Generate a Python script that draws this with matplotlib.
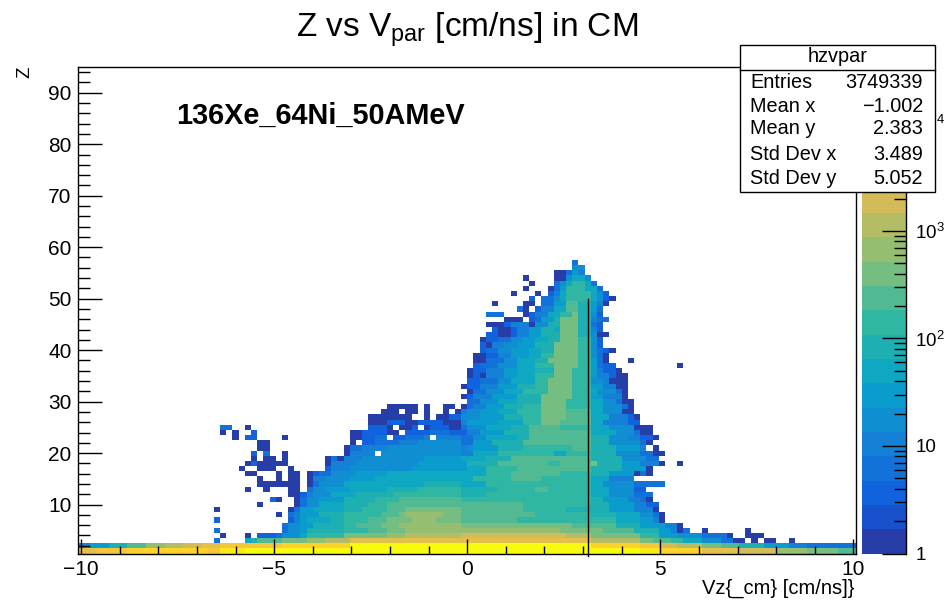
import numpy as np
import matplotlib
matplotlib.use("Agg")
import matplotlib.pyplot as plt
from matplotlib.colors import LinearSegmentedColormap, ListedColormap, LogNorm
from matplotlib.patches import Rectangle
from matplotlib.lines import Line2D

plt.rcParams['font.family'] = ['Liberation Sans', 'DejaVu Sans']
plt.rcParams['mathtext.fontset'] = 'custom'
plt.rcParams['mathtext.rm'] = 'Liberation Sans'
plt.rcParams['mathtext.default'] = 'regular'

W, H = 945, 600

# Histogram read-off: for each Z, (start bin, colour band) runs; band -1 = empty cell.
# Bins are 0.16 wide in Vz, starting at -10.08.
N_BINS = 126
LOG_MAX = 4.525
N_BANDS = 20
# Correction of the blue end of the read-off, after comparison with the reference colours
band_correction = {1: 2, 2: 3, 3: 4, 4: 5}
runs_by_z = {
 1: [(0,15),(3,16),(8,17),(21,16),(23,18),(27,19),(91,18),(94,17),(101,15),(107,14),(113,12),(118,11),(123,10),(126,-1)],
 2: [(0,3),(2,6),(5,8),(8,10),(11,12),(14,13),(17,14),(20,15),(23,16),(33,17),(44,19),(83,17),(91,16),(94,14),(97,13),(101,11),(104,10),(107,8),(111,6),(115,3),(118,2),(126,-1)],
 3: [(22,2),(23,-1),(27,7),(28,8),(29,10),(33,11),(37,12),(40,13),(44,15),(83,13),(91,11),(93,10),(96,9),(98,7),(101,4),(104,2),(106,0),(108,-1),(109,0),(110,-1),(111,0),(113,-1),(115,0),(116,-1)],
 4: [(23,0),(24,-1),(27,0),(28,-1),(29,1),(32,2),(33,4),(36,7),(37,9),(43,11),(50,12),(53,13),(62,14),(79,13),(83,11),(91,9),(94,6),(97,4),(101,2),(105,0),(106,-1),(108,0),(111,-1)],
 5: [(22,2),(23,-1),(33,2),(34,4),(36,6),(37,8),(43,9),(47,10),(50,11),(53,12),(72,12),(78,11),(85,10),(90,8),(94,6),(96,3),(97,0),(98,2),(99,-1),(101,0),(102,-1),(108,0),(109,-1)],
 6: [(33,2),(34,4),(36,6),(38,8),(43,9),(45,10),(49,11),(52,12),(62,11),(80,10),(83,10),(87,8),(91,6),(95,3),(97,0),(98,-1)],
 7: [(22,1),(23,-1),(34,1),(35,3),(36,6),(37,7),(41,8),(43,9),(47,10),(50,11),(54,12),(58,11),(62,10),(71,9),(87,7),(91,6),(93,3),(94,0),(95,-1)],
 8: [(32,0),(33,-1),(34,2),(35,3),(36,6),(39,8),(43,9),(49,10),(52,11),(53,12),(59,11),(62,10),(74,9),(83,8),(87,7),(91,4),(93,2),(94,0),(95,-1)],
 9: [(22,0),(23,-1),(34,0),(35,2),(36,6),(38,7),(43,8),(46,9),(50,10),(53,11),(62,10),(72,9),(79,8),(86,6),(90,3),(93,0),(94,-1)],
 10: [(29,0),(30,-1),(35,0),(36,2),(37,4),(39,7),(43,8),(47,9),(50,10),(72,9),(83,8),(86,6),(90,3),(92,1),(94,-1)],
 11: [(31,1),(32,0),(33,-1),(35,0),(36,2),(37,4),(39,6),(43,8),(48,9),(52,10),(62,9),(83,8),(85,6),(89,3),(91,2),(92,0),(93,-1)],
 12: [(34,0),(36,1),(37,3),(38,5),(41,7),(45,8),(51,9),(62,8),(66,9),(83,7),(86,4),(90,2),(93,-1)],
 13: [(27,0),(28,-1),(30,0),(31,-1),(34,0),(36,-1),(37,2),(38,4),(40,6),(44,7),(50,8),(55,9),(62,8),(68,9),(74,10),(76,9),(83,7),(86,4),(90,1),(92,-1)],
 14: [(29,0),(36,-1),(37,0),(38,2),(39,5),(43,7),(56,8),(62,7),(66,9),(83,7),(85,4),(90,2),(95,-1)],
 15: [(29,0),(30,-1),(32,0),(33,-1),(34,0),(36,-1),(37,0),(38,3),(40,5),(44,6),(48,7),(64,9),(70,10),(75,9),(83,7),(86,3),(90,-1)],
 16: [(27,0),(29,-1),(32,0),(33,-1),(34,0),(36,-1),(37,0),(38,1),(39,2),(41,4),(45,6),(50,7),(66,9),(70,10),(78,9),(83,8),(86,6),(90,0),(91,2),(92,0),(93,-1)],
 17: [(26,0),(27,-1),(29,0),(32,-1),(34,0),(35,-1),(40,1),(41,3),(44,4),(48,5),(54,6),(63,7),(66,9),(71,10),(83,8),(88,6),(92,0),(93,-1)],
 18: [(27,0),(28,1),(29,0),(34,-1),(40,0),(41,3),(45,4),(50,5),(55,6),(63,8),(68,10),(76,9),(78,10),(83,11),(84,8),(88,6),(91,3),(94,0),(95,-1),(97,0),(98,-1)],
 19: [(28,0),(29,-1),(30,0),(32,-1),(33,0),(34,-1),(40,0),(41,2),(42,0),(43,3),(46,4),(50,5),(56,6),(62,7),(66,8),(70,10),(83,8),(88,4),(92,2),(94,-1)],
 20: [(28,1),(29,-1),(30,2),(31,-1),(33,0),(34,-1),(43,0),(44,3),(48,-1),(49,4),(53,5),(62,3),(64,7),(68,9),(77,7),(79,9),(83,8),(87,4),(91,2),(93,0),(95,-1)],
 21: [(29,0),(31,-1),(43,0),(44,2),(46,3),(50,4),(62,3),(63,4),(64,6),(68,8),(72,9),(80,10),(83,8),(87,6),(91,3),(92,-1),(93,0),(94,-1)],
 22: [(29,0),(31,-1),(44,0),(45,-1),(46,1),(48,2),(52,3),(55,4),(62,2),(64,6),(67,8),(72,10),(83,8),(86,4),(91,2),(92,0),(93,-1)],
 23: [(25,0),(26,-1),(27,1),(29,-1),(33,0),(34,-1),(44,0),(46,1),(48,2),(50,-1),(51,1),(53,2),(56,3),(57,-1),(58,3),(62,2),(64,4),(66,7),(71,8),(73,10),(83,8),(86,4),(89,3),(91,1),(93,0),(94,-1)],
 24: [(23,0),(24,-1),(25,0),(26,-1),(28,1),(29,-1),(44,0),(46,1),(50,0),(52,-1),(53,1),(57,2),(60,1),(63,3),(65,6),(69,8),(73,10),(83,7),(87,4),(90,2),(91,0),(93,-1)],
 25: [(23,2),(25,-1),(27,0),(28,-1),(47,1),(50,0),(51,-1),(52,0),(54,1),(55,-1),(56,0),(57,1),(60,0),(62,2),(63,4),(66,7),(70,8),(73,10),(78,9),(83,7),(86,4),(90,0),(93,-1)],
 26: [(47,0),(50,1),(53,0),(55,1),(59,0),(62,3),(63,6),(68,7),(72,9),(75,11),(78,10),(83,7),(85,3),(89,1),(91,-1)],
 27: [(47,0),(53,0),(54,-1),(56,0),(57,-1),(58,0),(60,1),(62,4),(65,6),(69,8),(72,9),(75,11),(79,10),(83,7),(86,3),(89,1),(90,0),(91,-1)],
 28: [(49,0),(52,-1),(53,0),(55,-1),(56,0),(57,-1),(59,0),(60,-1),(61,0),(62,3),(63,4),(65,6),(68,7),(71,9),(75,11),(79,10),(83,7),(85,4),(88,0),(90,-1)],
 29: [(50,0),(55,-1),(56,0),(57,-1),(59,0),(61,-1),(62,0),(63,2),(64,3),(66,6),(69,8),(72,9),(75,11),(79,9),(83,7),(85,4),(88,2),(89,0),(90,-1)],
 30: [(63,2),(65,4),(68,7),(71,8),(75,11),(79,9),(83,7),(85,4),(87,2),(88,0),(90,-1)],
 31: [(62,0),(63,1),(64,3),(67,6),(71,8),(75,11),(80,9),(83,6),(85,3),(88,0),(89,-1)],
 32: [(63,0),(64,2),(66,4),(69,7),(72,9),(76,11),(80,9),(83,7),(84,4),(87,2),(88,0),(89,-1)],
 33: [(62,0),(63,1),(65,3),(68,6),(71,8),(74,9),(76,11),(80,9),(83,6),(85,3),(87,0),(89,-1)],
 34: [(63,1),(65,2),(68,4),(70,7),(74,9),(76,11),(80,9),(83,4),(85,3),(86,0),(89,-1)],
 35: [(63,0),(64,1),(65,0),(66,3),(69,6),(71,7),(74,9),(77,11),(80,9),(83,6),(84,3),(86,1),(87,0),(89,-1)],
 36: [(63,0),(64,1),(66,3),(69,6),(71,7),(74,8),(77,11),(80,9),(83,6),(84,3),(85,1),(87,0),(88,-1)],
 37: [(64,1),(65,2),(68,4),(71,7),(74,9),(77,11),(81,9),(83,6),(84,2),(85,1),(87,-1),(97,0),(98,-1)],
 38: [(64,0),(66,2),(69,4),(71,7),(74,8),(76,11),(81,9),(83,6),(84,2),(85,0),(86,-1),(89,0),(90,-1)],
 39: [(64,0),(66,1),(68,3),(70,6),(73,7),(75,9),(77,11),(81,9),(83,4),(84,2),(85,0),(86,-1)],
 40: [(65,1),(66,2),(68,4),(70,6),(73,7),(75,8),(77,11),(81,9),(83,4),(84,2),(85,1),(86,0),(87,-1)],
 41: [(65,1),(66,0),(67,3),(69,4),(71,6),(74,8),(77,11),(81,9),(83,4),(84,1),(85,-1)],
 42: [(65,0),(66,1),(68,2),(70,4),(72,6),(74,7),(76,8),(78,11),(81,9),(83,4),(84,1),(85,-1)],
 43: [(66,1),(68,0),(70,1),(71,3),(73,6),(75,8),(78,11),(81,8),(83,4),(84,0),(86,-1)],
 44: [(67,1),(68,0),(70,1),(71,3),(73,6),(75,8),(77,7),(78,11),(81,8),(83,3),(84,1),(85,-1)],
 45: [(66,0),(69,1),(70,3),(73,0),(74,4),(76,8),(78,11),(81,8),(83,2),(84,1),(85,-1)],
 46: [(69,0),(72,-1),(73,1),(74,2),(75,6),(77,8),(78,11),(81,8),(83,3),(84,2),(86,-1)],
 47: [(66,2),(69,-1),(72,0),(73,1),(74,3),(76,7),(78,9),(80,11),(81,8),(83,4),(84,1),(85,-1)],
 48: [(71,2),(72,0),(73,-1),(74,1),(75,3),(77,7),(79,10),(81,8),(83,6),(84,2),(85,-1)],
 49: [(67,0),(68,-1),(72,0),(74,-1),(75,2),(77,6),(79,10),(81,8),(83,6),(84,3),(85,0),(86,-1)],
 50: [(73,1),(74,-1),(75,2),(77,4),(78,7),(79,9),(83,7),(84,4),(85,1),(86,0),(87,-1)],
 51: [(70,0),(71,-1),(74,0),(75,-1),(76,1),(77,3),(78,7),(79,9),(83,7),(84,4),(85,1),(86,-1)],
 52: [(72,0),(73,-1),(76,0),(77,2),(78,6),(79,9),(82,7),(84,2),(85,-1)],
 53: [(73,0),(74,-1),(77,2),(78,4),(79,7),(80,9),(82,7),(83,2),(84,-1)],
 54: [(72,0),(73,-1),(77,0),(79,4),(80,7),(82,4),(83,-1)],
 55: [(77,0),(79,2),(80,6),(81,3),(82,-1)],
 56: [(80,4),(82,-1)],
 57: [(80,2),(81,-1)],
}
x_ticks = [-10, -5, 0, 5, 10]
y_ticks = [10, 20, 30, 40, 50, 60, 70, 80, 90]
stat_names = ["Entries", "Mean x", "Mean y", "Std Dev x", "Std Dev y"]
stat_values = ["3749339", "\u22121.002", "2.383", "3.489", "5.052"]
marker_vz = 3.12
marker_z = [0, 50]

def px_x(p): return p / W
def px_y(p): return 1 - p / H

fig = plt.figure(figsize=(W / 100, H / 100), dpi=100, facecolor='white')
ax = fig.add_axes([px_x(78), px_y(553.5), (856.5 - 78) / W, (553.5 - 67) / H])
cax = fig.add_axes([px_x(862), px_y(553.5), (905.5 - 862) / W, (553.5 - 67) / H])

# ROOT kBird palette, sampled into 20 contour bands
bird = LinearSegmentedColormap.from_list('bird', list(zip(np.linspace(0, 1, 9), [
    (.2082, .1664, .5293), (.0592, .3599, .8684), (.0780, .5041, .8385),
    (.0232, .6419, .7914), (.1802, .7178, .6425), (.5301, .7492, .4662),
    (.8186, .7328, .3499), (.9956, .7862, .1968), (.9764, .9832, .0539)])))
cmap = ListedColormap([bird((k + 1) / N_BANDS) for k in range(N_BANDS)])
cmap.set_bad('white')

z_values = np.arange(1, 58)
counts = np.full((len(z_values), N_BINS), np.nan)
for r, z in enumerate(z_values):
    runs = runs_by_z[z]
    for (start, band), (stop, _) in zip(runs[:-1], runs[1:]):
        if band >= 0:
            band = band_correction.get(band, band)
            counts[r, start:stop] = 10 ** ((band + 0.5) * LOG_MAX / N_BANDS)

x_edges = -10.08 + 0.16 * np.arange(N_BINS + 1)
z_edges = np.arange(0.5, 58.5)
norm = LogNorm(vmin=1, vmax=10 ** LOG_MAX)
mesh = ax.pcolormesh(x_edges, z_edges, np.ma.masked_invalid(counts), cmap=cmap, norm=norm,
                     linewidth=0, rasterized=True)
ax.set_xlim(-10.08, 10.08)
ax.set_ylim(0.5, 95)
ax.set_xticks(x_ticks)
ax.set_xticks(np.arange(-10, 11, 1), minor=True)
ax.set_yticks(y_ticks)
ax.set_yticks(np.arange(2, 95, 2), minor=True)
ax.set_xticklabels([str(t).replace('-', '\u2212') for t in x_ticks])
ax.tick_params(axis='x', which='major', direction='in', length=11, width=1, labelsize=15, pad=5)
ax.tick_params(axis='x', which='minor', direction='in', length=5.5, width=1)
ax.tick_params(axis='y', which='major', direction='in', length=17, width=1, labelsize=15, pad=4.5)
ax.tick_params(axis='y', which='minor', direction='in', length=8.5, width=1)
for s in ax.spines.values():
    s.set_linewidth(1)
ax.plot([marker_vz, marker_vz], marker_z, color='black', lw=1, clip_on=False, zorder=5)

cb = fig.colorbar(mesh, cax=cax)
cb.outline.set_visible(False)
cax.add_artist(Line2D([1, 1], [0, 1], transform=cax.transAxes, color='black', lw=1, clip_on=False))
cax.set_yticks([1, 10, 100, 1000, 10000], labels=['1', '10', '$10^{2}$', '$10^{3}$', '$10^{4}$'])
cax.tick_params(axis='y', which='major', direction='in', length=17, width=1, labelsize=13.5, pad=7, right=True)
cax.tick_params(axis='y', which='minor', direction='in', length=8.5, width=1, right=True, labelright=False)

fig.text(px_x(467), px_y(30), r'Z vs V$_{par}$ [cm/ns] in CM', ha='center', va='center', fontsize=24)
fig.text(px_x(25), px_y(72), 'Z', rotation=90, ha='center', va='center', fontsize=13.5)
fig.text(px_x(855), px_y(588), 'Vz{_cm} [cm/ns]}', ha='right', va='center', fontsize=14.5)
fig.text(px_x(176), px_y(116), '136Xe_64Ni_50AMeV', ha='left', va='center', fontsize=20.8, fontweight='bold')

# Statistics box
fig.add_artist(Rectangle((px_x(740.5), px_y(192)), (935 - 740.5) / W, (192 - 45) / H,
                         transform=fig.transFigure, facecolor='white', edgecolor='black', lw=1, zorder=10))
fig.add_artist(Line2D([px_x(740.5), px_x(935)], [px_y(70)] * 2, transform=fig.transFigure,
                      color='black', lw=1, zorder=11))
fig.text(px_x(837.5), px_y(56), 'hzvpar', ha='center', va='center', fontsize=14.3, zorder=12)
for name, value, y in zip(stat_names, stat_values, [82, 107, 128, 155, 178]):
    fig.text(px_x(750), px_y(y), name, ha='left', va='center', fontsize=14.3, zorder=12)
    fig.text(px_x(923), px_y(y), value, ha='right', va='center', fontsize=14.3, zorder=12)

fig.savefig('out.png', dpi=100)
